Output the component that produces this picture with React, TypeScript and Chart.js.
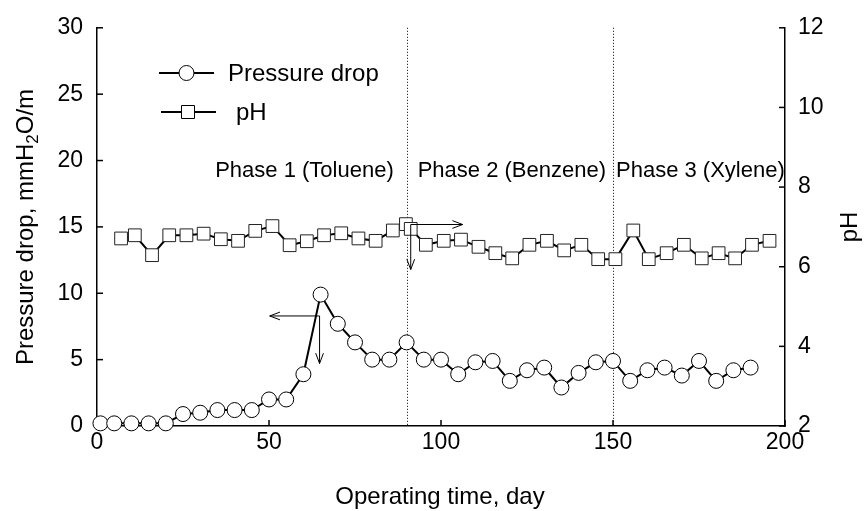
import React, { useEffect, useRef } from "react";
import { Chart, registerables } from "chart.js";

Chart.register(...registerables);

const FONT = '"Liberation Sans", Arial, Helvetica, sans-serif';

// ---- data ----
const pressureDays = [1, 5, 10, 15, 20, 25, 30, 35, 40, 45, 50, 55, 60, 65, 70, 75, 80, 85, 90, 95, 100, 105, 110, 115, 120, 125, 130, 135, 140, 145, 150, 155, 160, 165, 170, 175, 180, 185, 190];
const pressureValues = [0.2, 0.2, 0.2, 0.2, 0.2, 0.9, 1.0, 1.2, 1.2, 1.2, 2.0, 2.0, 3.9, 9.9, 7.7, 6.3, 5.0, 5.0, 6.3, 5.0, 5.0, 3.9, 4.8, 4.9, 3.4, 4.2, 4.4, 2.9, 4.0, 4.8, 4.9, 3.4, 4.2, 4.4, 3.8, 4.9, 3.4, 4.2, 4.4];

const phDays = [7, 11, 16, 21, 26, 31, 36, 41, 46, 51, 56, 61, 66, 71, 76, 81, 86, 89.8, 91.2, 95.6, 100.8, 105.8, 110.9, 115.8, 120.7, 125.7, 130.8, 135.8, 140.8, 145.7, 150.7, 155.9, 160.4, 165.6, 170.6, 175.8, 180.7, 185.5, 190.4, 195.5];
const phValues = [6.71, 6.79, 6.29, 6.79, 6.79, 6.83, 6.69, 6.65, 6.9, 7.02, 6.54, 6.64, 6.79, 6.84, 6.71, 6.65, 6.91, 7.07, 6.95, 6.55, 6.65, 6.68, 6.5, 6.34, 6.21, 6.55, 6.65, 6.41, 6.55, 6.19, 6.19, 6.91, 6.19, 6.34, 6.55, 6.21, 6.34, 6.21, 6.55, 6.65];

const xTicks = [0, 50, 100, 150, 200];
const leftTicks = [0, 5, 10, 15, 20, 25, 30];
const rightTicks = [2, 4, 6, 8, 10, 12];

const phaseBoundaries = [90, 150];
const phaseLabels = ["Phase 1 (Toluene)", "Phase 2 (Benzene)", "Phase 3 (Xylene)"];
const phaseLabelDays = [60.3, 120.6, 175.4];
const phaseLabelLevel = 19.2; // on pressure axis

// annotation arrows (data coordinates)
const pressureArrowDay = 64.7;
const pressureArrowLevel = 8.29;
const pressureArrowToDay = 50.2;
const pressureArrowToLevel = 4.71;
const phArrowDay = 91.2;
const phArrowLevel = 7.06;
const phArrowToDay = 106.3;
const phArrowToLevel = 5.93;

function arrow(ctx: CanvasRenderingContext2D, x1: number, y1: number, x2: number, y2: number) {
  const ang = Math.atan2(y2 - y1, x2 - x1);
  const len = 11;
  const spread = 0.36;
  ctx.beginPath();
  ctx.moveTo(x1, y1);
  ctx.lineTo(x2, y2);
  ctx.moveTo(x2 - len * Math.cos(ang - spread), y2 - len * Math.sin(ang - spread));
  ctx.lineTo(x2, y2);
  ctx.lineTo(x2 - len * Math.cos(ang + spread), y2 - len * Math.sin(ang + spread));
  ctx.stroke();
}

const decor = {
  id: "decor",
  beforeDatasetsDraw(chart: any) {
    const { ctx, chartArea, scales } = chart;
    const x = scales.x, y = scales.y, y2 = scales.y2;
    ctx.save();
    ctx.strokeStyle = "#000";
    ctx.lineWidth = 1;
    ctx.setLineDash([1, 2]);
    phaseBoundaries.forEach((d) => {
      const px = Math.round(x.getPixelForValue(d)) + 0.5;
      ctx.beginPath();
      ctx.moveTo(px, chartArea.top);
      ctx.lineTo(px, chartArea.bottom);
      ctx.stroke();
    });
    ctx.setLineDash([]);
    ctx.lineWidth = 1.5;
    leftTicks.forEach((v) => {
      const py = y.getPixelForValue(v);
      ctx.beginPath();
      ctx.moveTo(chartArea.left, py);
      ctx.lineTo(chartArea.left + 6, py);
      ctx.stroke();
    });
    rightTicks.forEach((v) => {
      const py = y2.getPixelForValue(v);
      ctx.beginPath();
      ctx.moveTo(chartArea.right, py);
      ctx.lineTo(chartArea.right - 6, py);
      ctx.stroke();
    });
    xTicks.forEach((v) => {
      const px = x.getPixelForValue(v);
      ctx.beginPath();
      ctx.moveTo(px, chartArea.bottom);
      ctx.lineTo(px, chartArea.bottom - 6);
      ctx.stroke();
    });
    ctx.restore();
  },
  afterDatasetsDraw(chart: any) {
    const { ctx, scales } = chart;
    const x = scales.x, y = scales.y, y2 = scales.y2;
    ctx.save();
    ctx.strokeStyle = "#000";
    ctx.fillStyle = "#000";
    ctx.lineWidth = 1;
    // arrows
    const ax = x.getPixelForValue(pressureArrowDay);
    const ay = y.getPixelForValue(pressureArrowLevel);
    arrow(ctx, ax, ay, x.getPixelForValue(pressureArrowToDay), ay);
    arrow(ctx, ax, ay, ax, y.getPixelForValue(pressureArrowToLevel));
    const bx = x.getPixelForValue(phArrowDay);
    const by = y2.getPixelForValue(phArrowLevel);
    arrow(ctx, bx, by, x.getPixelForValue(phArrowToDay), by);
    arrow(ctx, bx, by, bx, y2.getPixelForValue(phArrowToLevel));

    // phase labels
    ctx.font = `22px ${FONT}`;
    ctx.textAlign = "center";
    ctx.textBaseline = "middle";
    phaseLabels.forEach((t, i) => {
      ctx.fillText(t, x.getPixelForValue(phaseLabelDays[i]), y.getPixelForValue(phaseLabelLevel));
    });

    // legend
    const rows = [
      { y: 73, x1: 159, x2: 214, mx: 186.5, tx: 228, text: "Pressure drop", style: "circle" },
      { y: 112, x1: 161, x2: 216, mx: 188, tx: 236, text: "pH", style: "rect" },
    ];
    rows.forEach((r) => {
      ctx.lineWidth = 2;
      ctx.beginPath();
      ctx.moveTo(r.x1, r.y);
      ctx.lineTo(r.x2, r.y);
      ctx.stroke();
      ctx.lineWidth = 1;
      ctx.fillStyle = "#fff";
      ctx.beginPath();
      if (r.style === "circle") ctx.arc(r.mx, r.y, 7.5, 0, Math.PI * 2);
      else ctx.rect(r.mx - 6.5, r.y - 6.5, 13, 13);
      ctx.fill();
      ctx.stroke();
      ctx.fillStyle = "#000";
      ctx.font = `24px ${FONT}`;
      ctx.textAlign = "left";
      ctx.textBaseline = "middle";
      ctx.fillText(r.text, r.tx, r.y + 1);
    });

    // x title
    ctx.font = `24px ${FONT}`;
    ctx.textAlign = "center";
    ctx.textBaseline = "middle";
    ctx.fillText("Operating time, day", 440, 497);

    // left title with subscript
    ctx.save();
    ctx.translate(26, 227);
    ctx.rotate(-Math.PI / 2);
    const big = `24px ${FONT}`;
    const small = `17px ${FONT}`;
    const p1 = "Pressure drop, mmH";
    const p2 = "2";
    const p3 = "O/m";
    ctx.font = big;
    const w1 = ctx.measureText(p1).width;
    const w3 = ctx.measureText(p3).width;
    ctx.font = small;
    const w2 = ctx.measureText(p2).width;
    const total = w1 + w2 + w3;
    let cx = -total / 2;
    ctx.textAlign = "left";
    ctx.textBaseline = "middle";
    ctx.font = big;
    ctx.fillText(p1, cx, 0);
    cx += w1;
    ctx.font = small;
    ctx.fillText(p2, cx, 7);
    cx += w2;
    ctx.font = big;
    ctx.fillText(p3, cx, 0);
    ctx.restore();

    // right title
    ctx.save();
    ctx.translate(850, 227);
    ctx.rotate(-Math.PI / 2);
    ctx.font = big;
    ctx.textAlign = "center";
    ctx.textBaseline = "middle";
    ctx.fillText("pH", 0, 0);
    ctx.restore();

    ctx.restore();
  },
};

export default function App() {
  const ref = useRef<HTMLCanvasElement | null>(null);
  useEffect(() => {
    if (!ref.current) return;
    const chart = new Chart(ref.current, {
      type: "line",
      data: {
        datasets: [
          {
            label: "Pressure drop",
            data: pressureDays.map((d, i) => ({ x: d, y: pressureValues[i] })),
            yAxisID: "y",
            borderColor: "#000",
            borderWidth: 2,
            backgroundColor: "#fff",
            pointStyle: "circle",
            pointRadius: 7.5,
            pointBorderWidth: 1,
            pointBorderColor: "#000",
            pointBackgroundColor: "#fff",
            clip: false,
          },
          {
            label: "pH",
            data: phDays.map((d, i) => ({ x: d, y: phValues[i] })),
            yAxisID: "y2",
            borderColor: "#000",
            borderWidth: 2,
            backgroundColor: "#fff",
            pointStyle: "rect",
            pointRadius: 9,
            pointBorderWidth: 1,
            pointBorderColor: "#222",
            pointBackgroundColor: "#fff",
            clip: false,
          },
        ],
      },
      options: {
        animation: false,
        responsive: false,
        devicePixelRatio: 1,
        layout: { padding: { top: 27, left: 0, right: 0, bottom: 0 } },
        plugins: { legend: { display: false }, tooltip: { enabled: false } },
        scales: {
          x: {
            type: "linear",
            min: 0,
            max: 200,
            afterFit: (s: any) => { s.height = 85; },
            afterBuildTicks: (s: any) => { s.ticks = xTicks.map((v) => ({ value: v })); },
            grid: { display: false, drawTicks: false },
            border: { display: true, color: "#000", width: 1.5 },
            ticks: { color: "#000", font: { family: FONT, size: 23 }, padding: 3, maxRotation: 0 },
          },
          y: {
            type: "linear",
            position: "left",
            min: 0,
            max: 30,
            afterFit: (s: any) => { s.width = 97; },
            afterBuildTicks: (s: any) => { s.ticks = leftTicks.map((v) => ({ value: v })); },
            grid: { display: false, drawTicks: false },
            border: { display: true, color: "#000", width: 1.5 },
            ticks: { color: "#000", font: { family: FONT, size: 23 }, padding: 14 },
          },
          y2: {
            type: "linear",
            position: "right",
            min: 2,
            max: 12,
            afterFit: (s: any) => { s.width = 82; },
            afterBuildTicks: (s: any) => { s.ticks = rightTicks.map((v) => ({ value: v })); },
            grid: { display: false, drawTicks: false },
            border: { display: true, color: "#000", width: 1.5 },
            ticks: { color: "#000", font: { family: FONT, size: 23 }, padding: 13 },
          },
        },
      },
      plugins: [decor],
    } as any);
    return () => chart.destroy();
  }, []);
  return (
    <div style={{ position: "absolute", left: 0, top: 0, width: 867, height: 511, background: "#fff" }}>
      <canvas ref={ref} width={867} height={511} style={{ display: "block", width: 867, height: 511 }} />
    </div>
  );
}
